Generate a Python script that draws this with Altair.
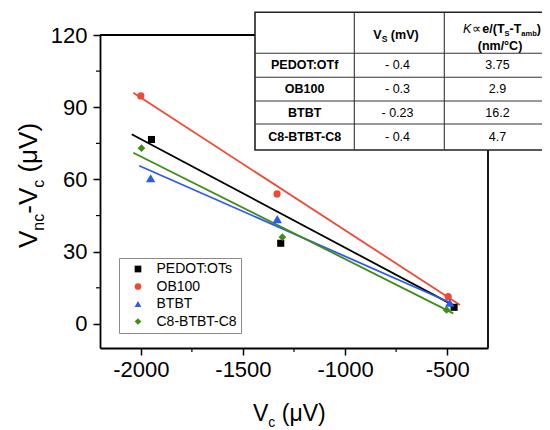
import altair as alt
import pandas as pd

FONT = "Liberation Sans"
W, H = 388, 313

# ---------------- data ----------------
series = ["PEDOT:OTs", "OB100", "BTBT", "C8-BTBT-C8"]
colors = ["#000000", "#EF4A33", "#2D5BF0", "#3F8C16"]
shapes = ["square", "circle", "triangle-up", "diamond"]
marker_sizes = [50, 52, 90, 60]

pedot_x = [-1948, -1315, -466]
pedot_y = [76.6, 33.5, 6.9]
ob100_x = [-2000, -1333, -495]
ob100_y = [94.7, 54.0, 11.3]
btbt_x = [-1952, -1332, -487]
btbt_y = [60.5, 43.5, 8.8]
c8_x = [-1997, -1307, -503]
c8_y = [73.0, 36.0, 5.8]

# linear-fit lines, end points
fit_x1 = [-2045, -2037, -2008, -2037]
fit_y1 = [78.8, 96.0, 65.7, 71.1]
fit_x2 = [-457, -437, -478, -470]
fit_y2 = [7.2, 7.9, 8.6, 4.4]

x_ticks = [-2000, -1500, -1000, -500]
x_minor = [-1750, -1250, -750]
y_ticks = [0, 30, 60, 90, 120]
y_minor = [15, 45, 75, 105]

table_names = ["PEDOT:OTf", "OB100", "BTBT", "C8-BTBT-C8"]
table_vs = ["- 0.4", "- 0.3", "- 0.23", "- 0.4"]
table_k = ["3.75", "2.9", "16.2", "4.7"]

# ---------------- helpers ----------------
REG = {'V': .667, 'n': .556, 'c': .5, '-': .333, ' ': .278, '(': .333, ')': .333,
       'μ': .576, 'K': .667, '∝': .72}
BOLD = {'V': .667, 'S': .667, ' ': .278, '(': .333, ')': .333, 'm': .889, 'e': .556,
        '/': .278, 'T': .611, '-': .333, 'a': .556, 'b': .611}


def tw(s, fs, bold=False):
    t = BOLD if bold else REG
    return sum(t.get(ch, 0.556) for ch in s) * fs


dummy = pd.DataFrame({"a": [0]})


def vtext(text, x, y, fs, weight="normal", style="normal", align="left",
          baseline="alphabetic", angle=0):
    return alt.Chart(dummy).mark_text(
        font=FONT, color="black", fontSize=fs, fontWeight=weight, fontStyle=style,
        align=align, baseline=baseline, angle=angle).encode(
        x=alt.value(x), y=alt.value(y), text=alt.value(text))


def vrule(x1, x2, y1, y2, color="black", width=1.0):
    return alt.Chart(dummy).mark_rule(color=color, strokeWidth=width).encode(
        x=alt.value(x1), x2=alt.value(x2), y=alt.value(y1), y2=alt.value(y2))


xs = alt.Scale(domain=[-2200, -300], nice=False, zero=False)
ys = alt.Scale(domain=[-10, 120], nice=False, zero=False)

all_x = [pedot_x, ob100_x, btbt_x, c8_x]
all_y = [pedot_y, ob100_y, btbt_y, c8_y]

leg = alt.Legend(title=None, orient="none", legendX=19, legendY=223, direction="vertical",
                 fillColor="white", strokeColor="#8a8a8a", padding=4,
                 rowPadding=3.5, symbolSize=45, symbolOffset=8, labelOffset=11.5,
                 labelFont=FONT, labelFontSize=14, labelColor="black",
                 symbolStrokeWidth=0, labelLimit=300)

cscale = alt.Scale(domain=series, range=colors)
sscale = alt.Scale(domain=series, range=shapes)

xaxis = alt.Axis(values=x_ticks, title=None, labelExpr="'' + datum.value", labelFont=FONT,
                 labelFontSize=22, labelColor="black", tickSize=7, tickWidth=1.5,
                 tickColor="black", domainColor="black", domainWidth=1.8, grid=False,
                 labelPadding=4, labelFlush=False)
yaxis = alt.Axis(values=y_ticks, title=None, labelExpr="'' + datum.value", labelFont=FONT,
                 labelFontSize=22, labelColor="black", tickSize=7, tickWidth=1.5,
                 tickColor="black", domainColor="black", domainWidth=1.8, grid=False,
                 labelPadding=6)

frame_top = vrule(0, W, 0, 0, width=1.8)
frame_right = vrule(W, W, 0, H, width=1.8)

xminor = alt.Chart(pd.DataFrame({"x": x_minor})).mark_rule(color="black", strokeWidth=1.2).encode(
    x=alt.X("x:Q", scale=xs, axis=xaxis), y=alt.value(H), y2=alt.value(H + 4))
yminor = alt.Chart(pd.DataFrame({"y": y_minor})).mark_rule(color="black", strokeWidth=1.2).encode(
    y=alt.Y("y:Q", scale=ys, axis=yaxis), x=alt.value(-4), x2=alt.value(0))

line_layers = []
for s, c, a, b, ya, yb in zip(series, colors, fit_x1, fit_x2, fit_y1, fit_y2):
    line_layers.append(
        alt.Chart(pd.DataFrame({"x": [a, b], "y": [ya, yb]})).mark_line(
            strokeWidth=1.8, color=c).encode(
            x=alt.X("x:Q", scale=xs, axis=xaxis),
            y=alt.Y("y:Q", scale=ys, axis=yaxis)))

point_layers = []
for s, xx, yy, sz in zip(series, all_x, all_y, marker_sizes):
    point_layers.append(
        alt.Chart(pd.DataFrame({"series": [s] * len(xx), "x": xx, "y": yy})).mark_point(
            filled=True, size=sz, opacity=1, strokeWidth=0).encode(
            x=alt.X("x:Q", scale=xs, axis=xaxis),
            y=alt.Y("y:Q", scale=ys, axis=yaxis),
            color=alt.Color("series:N", scale=cscale, legend=leg),
            shape=alt.Shape("series:N", scale=sscale, legend=leg),
        ))

# ---------------- table (layout in pixels relative to plot origin) ----------------
col_x = [155, 254.3, 344.3, 470]
row_y = [-22.7, 18.3, 42.3, 66, 89, 115]

overlay = []
overlay.append(alt.Chart(dummy).mark_rect(fill="white", stroke="#222222", strokeWidth=1.6).encode(
    x=alt.value(col_x[0]), x2=alt.value(col_x[-1]), y=alt.value(row_y[0]), y2=alt.value(row_y[-1])))
for yy in row_y[1:-1]:
    overlay.append(vrule(col_x[0], col_x[-1], yy, yy, color="#333333", width=1.1))
for xx in col_x[1:-1]:
    overlay.append(vrule(xx, xx, row_y[0], row_y[-1], color="#333333", width=1.1))

FS_T = 12.5
c1 = (col_x[0] + col_x[1]) / 2
c2 = 297.5
c3 = 397.5
centers = [(row_y[i] + row_y[i + 1]) / 2 for i in range(1, 5)]
for name, vs, k, cy in zip(table_names, table_vs, table_k, centers):
    overlay.append(vtext(name, c1, cy, FS_T, weight="bold", align="center", baseline="middle"))
    overlay.append(vtext(vs, c2, cy, FS_T, align="center", baseline="middle"))
    overlay.append(vtext(k, c3, cy, FS_T, align="center", baseline="middle"))

# header col 2: V_S (mV)
parts = [("V", FS_T, 0), ("S", 8.5, 3), (" (mV)", FS_T, 0)]
tot = sum(tw(p, f, True) for p, f, _ in parts)
cx = 296 - tot / 2
for p, f, dy in parts:
    lead = tw(p[:len(p) - len(p.lstrip())], f, True)
    overlay.append(vtext(p.strip(), cx + lead, 3.5 + dy, f, weight="bold"))
    cx += tw(p, f, True)

# header col 3 line 1: K ∝ e/(T_S-T_amb)
cx = 363
overlay.append(vtext("K", cx, -2.5, FS_T, style="italic"))
cx += tw("K", FS_T) + 1
overlay.append(vtext("∝", cx, -2.5, FS_T))
cx += tw("∝", FS_T) + 1
for p, f, dy in [("e/(T", FS_T, 0), ("S", 7.5, 3), ("-T", FS_T, 0), ("amb", 7.5, 3), (")", FS_T, 0)]:
    overlay.append(vtext(p, cx, -2.5 + dy, f, weight="bold"))
    cx += tw(p, f, True)
overlay.append(vtext("(nm/°C)", 400, 11, FS_T, weight="bold", align="center", baseline="middle"))

# x-axis title: V_c (μV)
cx = 153
for p, f, dy in [("V", 23, 0), ("c", 14, 6), (" (μV)", 23, 0)]:
    lead = tw(p[:len(p) - len(p.lstrip())], f)
    overlay.append(vtext(p.strip(), cx + lead, 386 + dy, f))
    cx += tw(p, f)

# y-axis title: V_nc - V_c (μV), rotated
cy = 213
for p, f, dx in [("V", 26, 0), ("nc", 16, 7), ("-V", 26, 0), ("c", 16, 7), (" (μV)", 26, 0)]:
    lead = tw(p[:len(p) - len(p.lstrip())], f)
    overlay.append(vtext(p.strip(), -63 + dx, cy - lead, f, angle=270))
    cy -= tw(p, f)

chart = alt.layer(frame_top, frame_right, xminor, yminor, *line_layers, *point_layers,
                  *overlay).properties(
    width=W, height=H,
    padding={"left": 92, "top": 27, "right": 54, "bottom": 82},
    autosize=alt.AutoSizeParams(type="none"),
).configure_view(stroke=None)

chart.save("out.html", embed_options={"renderer": "svg", "actions": False})
